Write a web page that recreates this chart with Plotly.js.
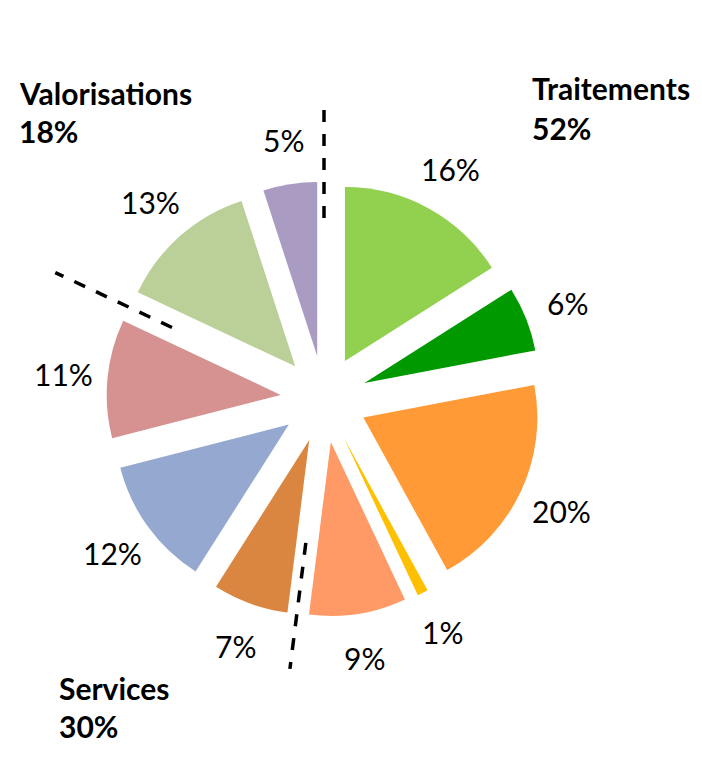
<!DOCTYPE html>
<html><head><meta charset="utf-8">
<script src="https://cdn.plot.ly/plotly-3.0.1.min.js"></script>
<style>html,body{margin:0;padding:0;background:#fff}#chart{width:702px;height:766px}</style>
</head><body><div id="chart"></div>
<script>
// ---- data ----
const categories = ['Traitements A','Traitements B','Traitements C','Traitements D','Traitements E',
                    'Services A','Services B','Services C','Valorisations A','Valorisations B'];
const values = [16, 6, 20, 1, 9, 7, 12, 11, 13, 5];
const groupNames = ['Traitements', 'Services', 'Valorisations'];
const groupSizes = [5, 3, 2];   // number of consecutive slices in each group

// ---- style ----
const colors = ['#92D050','#009A00','#FF9A36','#FFC000','#FF9A66',
                '#DA8640','#95A9D0','#D59290','#BBCF98','#A99BC1'];
const W = 702, H = 766;
const CX = 324, CY = 399, R = 174, PULL = 0.25;
const LABEL_R = 262;
const FONT = 'Lato, "Open Sans", sans-serif';
const sepInner = [181, 145, 168];
const sepOuter = [301, 272, 297];
const groupPos = [[530, 88, 128], [57, 688, 726], [17, 93, 131]];

const half = R * (1 + PULL);
const px = x => x / W, py = y => 1 - y / H;
const total = values.reduce((a, b) => a + b, 0);

const trace = {
  type: 'pie', labels: categories, values: values, sort: false,
  direction: 'clockwise', rotation: 0, pull: values.map(() => PULL),
  marker: {colors: colors, line: {width: 0}},
  textinfo: 'none', hoverinfo: 'label+percent',
  domain: {x: [px(CX - half), px(CX + half)], y: [py(CY + half), py(CY - half)]}
};

const annotations = [];
let cum = 0;
values.forEach(v => {
  const th = (cum + v / 2) / total * 2 * Math.PI;
  annotations.push({
    xref: 'paper', yref: 'paper', showarrow: false,
    x: px(CX + LABEL_R * Math.sin(th)), y: py(CY - LABEL_R * Math.cos(th)),
    xanchor: 'center', yanchor: 'middle',
    text: Math.round(v / total * 100) + '%',
    font: {family: FONT, size: 30, color: '#000'}
  });
  cum += v;
});

const shapes = [];
let idx = 0, gcum = 0;
groupNames.forEach((g, k) => {
  const sum = values.slice(idx, idx + groupSizes[k]).reduce((a, b) => a + b, 0);
  const th = gcum / total * 2 * Math.PI;
  shapes.push({
    type: 'line', xref: 'paper', yref: 'paper',
    x0: px(CX + sepInner[k] * Math.sin(th)), y0: py(CY - sepInner[k] * Math.cos(th)),
    x1: px(CX + sepOuter[k] * Math.sin(th)), y1: py(CY - sepOuter[k] * Math.cos(th)),
    line: {color: '#000', width: 3.5, dash: '12px,12px'}
  });
  const [gx, gy1, gy2] = groupPos[k];
  annotations.push({xref: 'paper', yref: 'paper', showarrow: false, x: px(gx), y: py(gy1),
    xanchor: 'left', yanchor: 'middle', text: '<b>' + g + '</b>',
    font: {family: FONT, size: 30, color: '#000'}});
  annotations.push({xref: 'paper', yref: 'paper', showarrow: false, x: px(gx), y: py(gy2),
    xanchor: 'left', yanchor: 'middle', text: '<b>' + Math.round(sum / total * 100) + '%</b>',
    font: {family: FONT, size: 30, color: '#000'}});
  idx += groupSizes[k];
  gcum += sum;
});

Plotly.newPlot('chart', [trace], {
  width: W, height: H, margin: {l: 0, r: 0, t: 0, b: 0},
  paper_bgcolor: '#fff', plot_bgcolor: '#fff', showlegend: false,
  annotations: annotations, shapes: shapes
}, {displayModeBar: false, staticPlot: true});
</script></body></html>
